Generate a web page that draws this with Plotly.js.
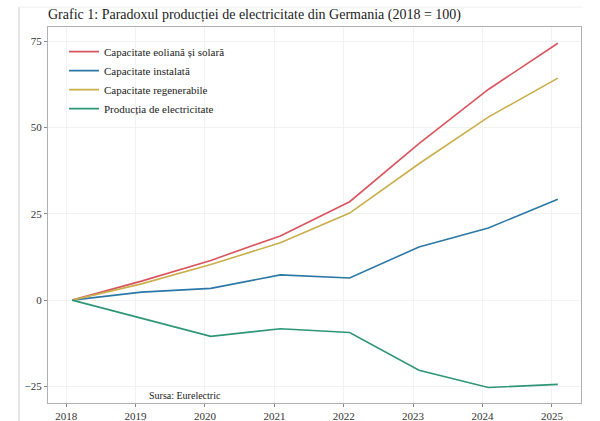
<!DOCTYPE html>
<html>
<head>
<meta charset="utf-8">
<script src="https://cdn.plot.ly/plotly-3.0.1.min.js"></script>
<style>html,body{margin:0;padding:0;background:#fff;}#chart{width:600px;height:421px;}</style>
</head>
<body>
<div id="chart"></div>
<script>
var years = ['2018-02-01','2019-02-01','2020-02-01','2021-02-01','2022-02-01','2023-02-01','2024-02-01','2025-02-01'];
var eolianaSolara = [0, 5.5, 11.5, 18.6, 28.5, 45.3, 61.0, 74.4];
var instalata = [0, 2.3, 3.4, 7.3, 6.4, 15.4, 20.9, 29.2];
var regenerabile = [0, 4.7, 10.3, 16.6, 25.2, 39.5, 53.0, 64.3];
var productie = [0, -5.2, -10.5, -8.3, -9.4, -20.3, -25.3, -24.4];
var seriesNames = ['Capacitate eoliană și solară','Capacitate instalată','Capacitate regenerabile','Producția de electricitate'];
var tickVals = ['2018-01-01','2019-01-01','2020-01-01','2021-01-01','2022-01-01','2023-01-01','2024-01-01','2025-01-01'];
var tickText = ['2018','2019','2020','2021','2022','2023','2024','2025'];

var colors = ['#d9545e','#2b78a6','#c9ae4c','#2e9676'];
var vals = [eolianaSolara, instalata, regenerabile, productie];
var traces = vals.map(function(v,i){
  return {x: years, y: v, type:'scatter', mode:'lines', name: seriesNames[i],
          line:{color: colors[i], width:1.6}};
});
var serif = '"Liberation Serif", "DejaVu Serif", serif';
var layout = {
  width:600, height:421,
  margin:{l:48, r:19, t:27, b:18},
  paper_bgcolor:'#fff', plot_bgcolor:'#fff',
  font:{family: serif, color:'#333', size:11},
  title:{text:'Grafic 1: Paradoxul producției de electricitate din Germania (2018 = 100)',
         font:{family: serif, size:14, color:'#222'},
         x:48/600, xanchor:'left', y:1-14/421, yanchor:'middle'},
  xaxis:{type:'date', range:['2017-09-27','2025-06-03'], tickvals: tickVals, ticktext: tickText,
         showline:true, linecolor:'#b0b0b0', linewidth:1, mirror:true,
         ticks:'outside', ticklen:3, tickcolor:'#888',
         showgrid:true, gridcolor:'#f2f2f2', zeroline:false,
         tickfont:{family: serif, size:11, color:'#333'}},
  yaxis:{range:[-29.8, 79.1], tickvals:[-25,0,25,50,75],
         showline:true, linecolor:'#b0b0b0', linewidth:1, mirror:true,
         ticks:'outside', ticklen:3, tickcolor:'#888',
         showgrid:true, gridcolor:'#f2f2f2', zeroline:false,
         tickfont:{family: serif, size:11, color:'#333'}},
  showlegend:true,
  legend:{x:0.03, y:0.973, xanchor:'left', yanchor:'top', bgcolor:'rgba(0,0,0,0)',
          font:{family: serif, size:11, color:'#222'}, tracegroupgap:0},
  annotations:[{text:'Sursa: Eurelectric', xref:'paper', yref:'paper', x:0.257, y:0.021,
                xanchor:'center', yanchor:'middle', showarrow:false,
                font:{family: serif, size:10, color:'#222'}}],
  shapes:[
    {type:'line', xref:'paper', yref:'paper', x0:-0.0544, x1:-0.0544, y0:-0.06, y1:1.053, line:{color:'#e6e6e6', width:2}},
    {type:'line', xref:'paper', yref:'paper', x0:-0.0544, x1:1.0038, y0:1.053, y1:1.053, line:{color:'#f0f0f0', width:1}}
  ]
};
Plotly.newPlot('chart', traces, layout, {displayModeBar:false, staticPlot:true});
</script>
</body>
</html>
